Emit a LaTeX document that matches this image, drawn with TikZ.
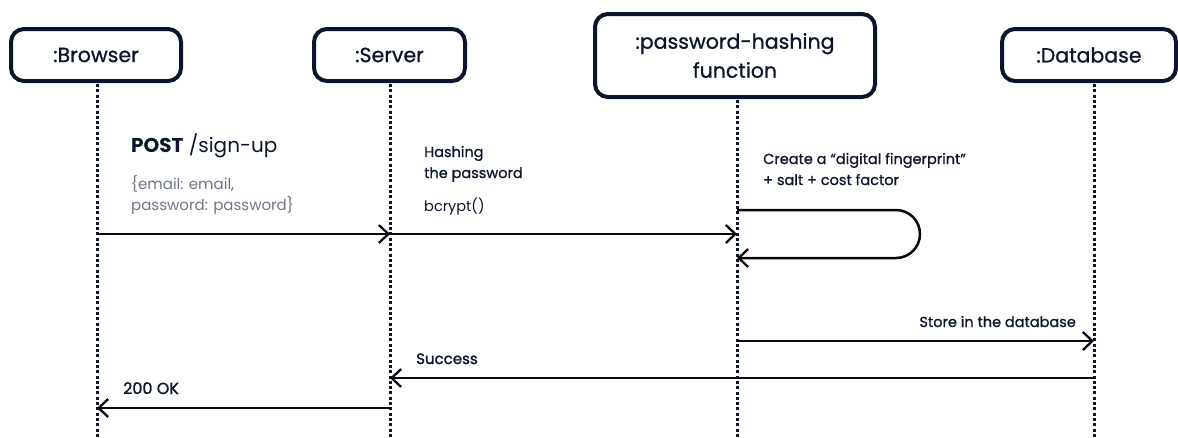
\documentclass[tikz,border=0pt]{standalone}
\usepackage{fontspec}
\setmainfont{Poppins}
\newfontfamily\medfont{Poppins}[FakeBold=0.9]
\newfontfamily\semifont{Poppins}[FakeBold=1.4]
\usetikzlibrary{arrows.meta}
\definecolor{ink}{RGB}{13,21,45}
\definecolor{muted}{RGB}{112,118,136}
\definecolor{wire}{RGB}{8,8,12}

\begin{document}
\begin{tikzpicture}[x=1pt,y=-1pt,
  actor/.style={draw=ink, line width=4pt, rounded corners=13pt, inner sep=0pt,
    text=ink, align=center, font=\medfont\fontsize{20.5}{29}\selectfont},
  lifeline/.style={draw=ink, line width=3pt, dash pattern=on 3pt off 2.3pt},
  msg/.style={draw=wire, line width=2.5pt,
    -{Straight Barb[length=9.5pt,width=18pt,line width=2.3pt]}},
  lbl/.style={text=ink, inner sep=0pt, anchor=base west, align=left,
    font=\medfont\fontsize{14.5}{21}\selectfont},
  note/.style={text=muted, inner sep=0pt, anchor=base west, align=left,
    font=\fontsize{15}{21}\selectfont}]
\useasboundingbox[fill=white] (0,0) rectangle (1178,437);

% participants
\node[actor, minimum width=170pt, minimum height=52pt] (br) at (96,55) {:Browser};
\node[actor, minimum width=151pt, minimum height=52pt] (sv) at (389.5,55) {:Server};
\node[actor, minimum width=280pt, minimum height=83pt] (hf) at (735,55.5) {:password-hashing\\function};
\node[actor, minimum width=174pt, minimum height=52pt] (db) at (1089,55) {:Database};

% lifeline anchors
\coordinate (brT) at (97,84);  \coordinate (brB) at (97,437);
\coordinate (svT) at (390,84); \coordinate (svB) at (390,437);
\coordinate (hfT) at (737,100); \coordinate (hfB) at (737,437);
\coordinate (dbT) at (1094,84); \coordinate (dbB) at (1094,437);
\draw[lifeline] (brT) -- (brB);
\draw[lifeline] (svT) -- (svB);
\draw[lifeline] (hfT) -- (hfB);
\draw[lifeline] (dbT) -- (dbB);

% message points
\coordinate (m1a) at (97,234);  \coordinate (m1b) at (390,234);
\coordinate (m2b) at (737,234);
\coordinate (l1) at (737,210); \coordinate (l2) at (737,258);
\coordinate (m3a) at (737,341); \coordinate (m3b) at (1094,341);
\coordinate (m4a) at (1094,378); \coordinate (m4b) at (390,378);
\coordinate (m5a) at (390,408); \coordinate (m5b) at (97,408);

\draw[msg] (m1a) -- (m1b);
\draw[msg] (m1b) -- (m2b);
\draw[msg, rounded corners=24pt] (l1) -- (920,210) -- (920,258) -- (l2);
\draw[msg] (m3a) -- (m3b);
\draw[msg] (m4a) -- (m4b);
\draw[msg] (m5a) -- (m5b);

% labels (base anchor sits on the last line of a multi-line node)
\node[lbl, font=\fontsize{20}{23}\selectfont] (post) at (131,152) {\textbf{POST} /sign-up};
\node[note] (body) at (131,210) {\{email: email,\\password: password\}};
\node[lbl] (hash) at (424,178) {Hashing\\the password};
\node[lbl, font=\fontsize{14.5}{21}\selectfont] (bc) at (424,211) {bcrypt()};
\node[lbl] (fp) at (763,185) {Create a “digital fingerprint”\\+ salt + cost factor};
\node[lbl, anchor=base east] (st) at (1076,327) {Store in the database};
\node[lbl, font=\semifont\fontsize{15}{21}\selectfont] (ok1) at (416,364) {Success};
\node[lbl, font=\semifont\fontsize{16}{21}\selectfont] (ok2) at (123,394) {200 OK};
\end{tikzpicture}
\end{document}
